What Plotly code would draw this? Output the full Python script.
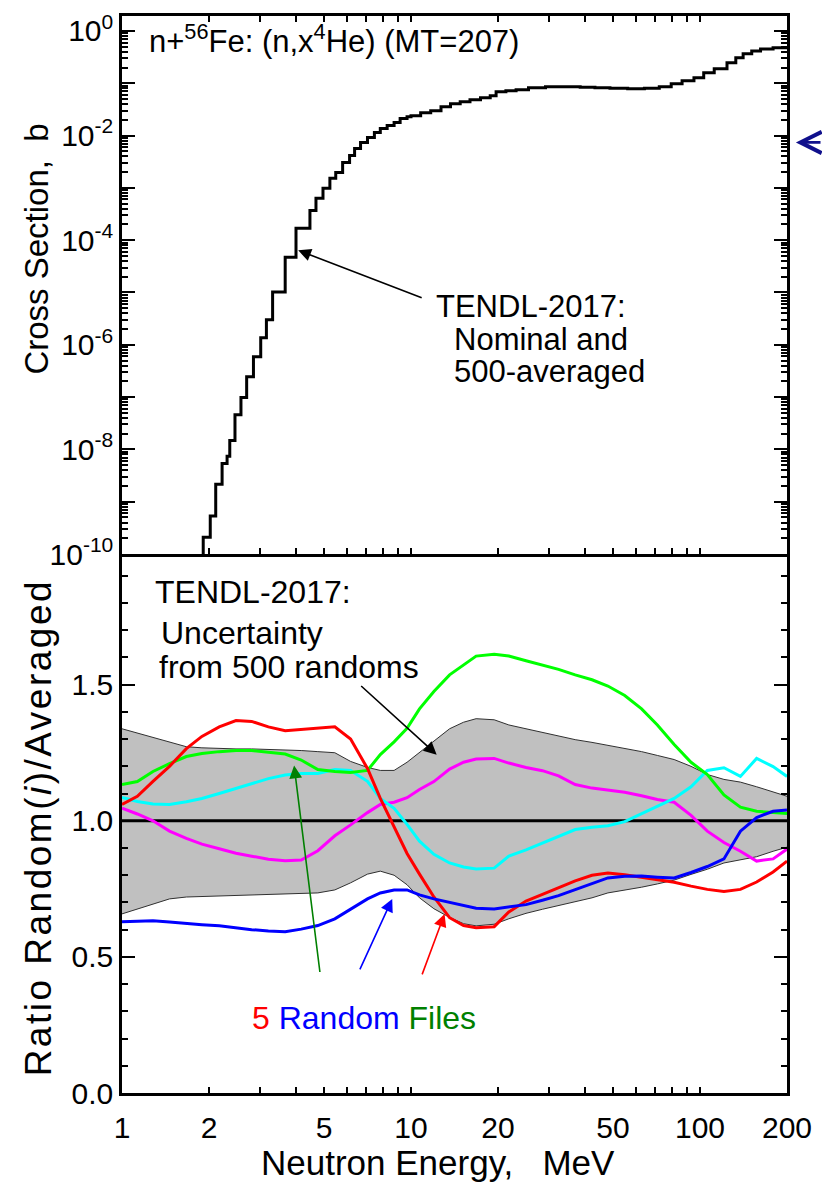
import math
import plotly.graph_objects as go

FONT = "Liberation Sans, Arial, Helvetica, sans-serif"

# ---------------- upper panel: n+56Fe (n,x4He) cross section (b) ----------------
# group-wise values; each value holds from its energy up to the next one
xs_energy = [1.80, 1.91, 2.02, 2.11, 2.22, 2.31, 2.36, 2.46, 2.58, 2.70,
             2.85, 3.02, 3.16, 3.32, 3.67, 4.00, 4.47, 4.69, 4.96, 5.24,
             5.49, 5.80, 6.13, 6.38, 6.69, 7.07, 7.47, 7.83, 8.27, 8.74,
             9.17, 9.69, 10.0, 10.8, 11.7, 12.7, 13.7, 14.8, 16.0, 17.4,
             18.8, 19.7, 21.3, 23.1, 25.5, 29.2, 33.4, 38.5, 43.3, 48.8,
             56.2, 64.2, 72.3, 79.5, 86.7, 95.3, 103, 112, 124, 133,
             141, 151, 162, 179, 200]
xs_barn = [1e-12, 2.1e-10, 5.3e-10, 2.15e-9, 5.4e-9, 7.4e-9, 1.48e-8, 4.6e-8, 9.8e-8, 2.45e-7,
           5.9e-7, 1.36e-6, 3.0e-6, 1.02e-5, 4.7e-5, 1.69e-4, 3.7e-4, 6.3e-4, 9.8e-4, 1.52e-3,
           1.97e-3, 3.06e-3, 4.16e-3, 5.65e-3, 7.36e-3, 9.16e-3, 1.14e-2, 1.36e-2, 1.55e-2, 1.77e-2,
           2.11e-2, 2.30e-2, 2.40e-2, 2.74e-2, 2.99e-2, 3.57e-2, 4.07e-2, 4.44e-2, 4.85e-2, 5.30e-2,
           5.78e-2, 6.89e-2, 7.20e-2, 7.52e-2, 8.20e-2, 8.58e-2, 8.58e-2, 8.39e-2, 8.20e-2, 8.03e-2,
           7.86e-2, 8.03e-2, 8.58e-2, 9.78e-2, 0.112, 0.127, 0.158, 0.189, 0.246, 0.306,
           0.365, 0.416, 0.454, 0.475, 0.475]

# ---------------- lower panel: random file / 500-averaged ----------------
ratio_energy = [1.0, 1.13, 1.28, 1.46, 1.67, 1.89, 2.17, 2.48, 2.81, 3.21,
                3.67, 4.17, 4.76, 5.45, 6.18, 7.07, 7.83, 8.74, 9.69, 10.7,
                12.0, 13.6, 15.2, 16.8, 19.4, 21.8, 25.0, 28.5, 32.4, 37.0,
                42.3, 48.0, 54.9, 62.8, 71.2, 81.4, 93.1, 106, 121, 138,
                157, 179, 200]

# uncertainty band from 500 randoms
band_high = [1.338, 1.322, 1.305, 1.290, 1.272, 1.268, 1.265, 1.264, 1.264, 1.262,
             1.261, 1.258, 1.254, 1.250, 1.218, 1.196, 1.185, 1.185, 1.215, 1.250,
             1.291, 1.338, 1.362, 1.375, 1.371, 1.352, 1.338, 1.325, 1.310, 1.298,
             1.288, 1.278, 1.266, 1.254, 1.240, 1.225, 1.200, 1.170, 1.152, 1.142,
             1.125, 1.105, 1.090]
band_low = [0.658, 0.675, 0.695, 0.713, 0.720, 0.722, 0.724, 0.726, 0.728, 0.729,
            0.731, 0.733, 0.735, 0.746, 0.772, 0.804, 0.815, 0.800, 0.765, 0.717,
            0.677, 0.645, 0.622, 0.614, 0.620, 0.640, 0.660, 0.675, 0.688, 0.703,
            0.717, 0.735, 0.745, 0.756, 0.768, 0.782, 0.803, 0.822, 0.845, 0.856,
            0.868, 0.888, 0.903]

# five individual random files
rand_red = [1.060, 1.090, 1.145, 1.200, 1.265, 1.310, 1.345, 1.368, 1.365, 1.345,
            1.331, 1.335, 1.340, 1.345, 1.300, 1.192, 1.082, 0.975, 0.880, 0.804,
            0.720, 0.644, 0.615, 0.607, 0.611, 0.665, 0.705, 0.730, 0.755, 0.779,
            0.800, 0.808, 0.802, 0.793, 0.785, 0.774, 0.760, 0.748, 0.740, 0.748,
            0.775, 0.812, 0.852]
rand_green = [1.133, 1.144, 1.181, 1.210, 1.236, 1.247, 1.254, 1.258, 1.258, 1.252,
              1.245, 1.223, 1.188, 1.181, 1.177, 1.185, 1.243, 1.290, 1.340, 1.411,
              1.475, 1.536, 1.573, 1.605, 1.612, 1.605, 1.588, 1.572, 1.556, 1.536,
              1.518, 1.495, 1.460, 1.411, 1.352, 1.280, 1.215, 1.170, 1.095, 1.050,
              1.035, 1.030, 1.027]
rand_blue = [0.629, 0.632, 0.633, 0.628, 0.622, 0.618, 0.614, 0.606, 0.600, 0.595,
             0.592, 0.602, 0.615, 0.640, 0.676, 0.713, 0.735, 0.746, 0.746, 0.728,
             0.713, 0.700, 0.688, 0.679, 0.676, 0.683, 0.692, 0.708, 0.725, 0.747,
             0.768, 0.790, 0.796, 0.797, 0.793, 0.790, 0.810, 0.832, 0.860, 0.962,
             1.012, 1.035, 1.040]
rand_cyan = [1.086, 1.071, 1.062, 1.060, 1.070, 1.082, 1.100, 1.119, 1.138, 1.155,
             1.168, 1.174, 1.174, 1.188, 1.185, 1.145, 1.082, 1.046, 0.987, 0.925,
             0.877, 0.845, 0.830, 0.823, 0.826, 0.870, 0.893, 0.918, 0.945, 0.968,
             0.976, 0.982, 0.997, 1.025, 1.052, 1.082, 1.125, 1.185, 1.195, 1.163,
             1.229, 1.199, 1.163]
rand_magenta = [1.046, 1.025, 1.000, 0.962, 0.935, 0.914, 0.897, 0.881, 0.870, 0.859,
                0.853, 0.856, 0.890, 0.945, 0.985, 1.030, 1.060, 1.068, 1.085, 1.115,
                1.144, 1.190, 1.215, 1.227, 1.229, 1.212, 1.196, 1.184, 1.165, 1.133,
                1.120, 1.113, 1.105, 1.092, 1.078, 1.068, 1.020, 0.962, 0.920, 0.888,
                0.852, 0.860, 0.896]

unity_energy = [1.0, 200.0]
unity_ratio = [1.0, 1.0]

# tick labels
x_ticks = [1, 2, 3, 4, 5, 6, 7, 8, 9, 10, 20, 30, 40, 50, 60, 70, 80, 90, 100, 200]
x_labels = ["1", "2", "", "", "5", "", "", "", "", "10",
            "20", "", "", "50", "", "", "", "", "100", "200"]
xs_decades = [10.0 ** k for k in range(-10, 1)]
xs_labels = ["10<sup>-10</sup>", "", "10<sup>-8</sup>", "", "10<sup>-6</sup>", "",
             "10<sup>-4</sup>", "", "10<sup>-2</sup>", "", "10<sup>0</sup>"]
ratio_ticks = [0.0, 0.5, 1.0, 1.5]
ratio_labels = ["0.0", "0.5", "1.0", "1.5"]

# ---------------- figure geometry ----------------
W, H = 822, 1185
ML, MR, MT, MB = 122, 28, 10, 92
PW, PH = W - ML - MR, H - MT - MB
SPLIT = 542 / PH
XMAX = math.log10(200)


def px(x):
    return (x - ML) / PW


def py(y):
    return (H - MB - y) / PH


fig = go.Figure()

# cross section
fig.add_trace(go.Scatter(x=xs_energy, y=xs_barn, xaxis="x2", yaxis="y2", mode="lines",
                         line=dict(color="black", width=3, shape="hv"), hoverinfo="skip"))

# band
fig.add_trace(go.Scatter(x=ratio_energy, y=band_low, mode="lines",
                         line=dict(color="#303030", width=1), hoverinfo="skip"))
fig.add_trace(go.Scatter(x=ratio_energy, y=band_high, mode="lines", fill="tonexty",
                         fillcolor="#c0c0c0",
                         line=dict(color="#303030", width=1), hoverinfo="skip"))
fig.add_trace(go.Scatter(x=unity_energy, y=unity_ratio, mode="lines",
                         line=dict(color="black", width=3), hoverinfo="skip"))

for vals, col in [(rand_magenta, "#ff00ff"), (rand_cyan, "#00ffff"), (rand_green, "#00ff00"),
                  (rand_red, "#ff0000"), (rand_blue, "#0000ff")]:
    fig.add_trace(go.Scatter(x=ratio_energy, y=vals, mode="lines",
                             line=dict(color=col, width=3), hoverinfo="skip"))

axis_common = dict(showgrid=False, zeroline=False, showline=True, linecolor="black",
                   linewidth=2.5, ticks="inside", tickcolor="black",
                   tickfont=dict(family=FONT, size=30, color="black"))

ratio_minor = [round(0.1 * k, 1) for k in range(1, 20) if k % 5]
xs_minor = [m * 10.0 ** k for k in range(-10, 1) for m in range(2, 10)]

fig.update_layout(
    width=W, height=H,
    margin=dict(l=ML, r=MR, t=MT, b=MB),
    paper_bgcolor="white", plot_bgcolor="white",
    showlegend=False,
    font=dict(family=FONT, color="black"),
    xaxis=dict(axis_common, type="log", range=[0, XMAX], domain=[0, 1], anchor="y",
               tickmode="array", tickvals=x_ticks, ticktext=x_labels, ticklen=6, tickwidth=2,
               mirror=False, ticklabelstandoff=6),
    xaxis2=dict(axis_common, type="log", range=[0, XMAX], domain=[0, 1], anchor="y2",
                tickmode="array", tickvals=x_ticks, ticktext=x_labels, ticklen=6, tickwidth=2,
                showticklabels=False, mirror="ticks"),
    xaxis3=dict(axis_common, type="log", range=[0, XMAX], overlaying="x", anchor="y",
                tickmode="array", tickvals=[1, 10, 100], ticklen=13, tickwidth=2,
                showticklabels=False, mirror=False),
    xaxis4=dict(axis_common, type="log", range=[0, XMAX], overlaying="x2", anchor="y2",
                tickmode="array", tickvals=[1, 10, 100], ticklen=13, tickwidth=2,
                showticklabels=False, mirror="ticks"),
    yaxis=dict(axis_common, range=[0, 1.98], domain=[0, SPLIT], anchor="x",
               tickmode="array", tickvals=ratio_ticks, ticktext=ratio_labels,
               ticklen=13, tickwidth=2, mirror="ticks",
               minor=dict(tickmode="array", tickvals=ratio_minor, ticks="inside",
                          ticklen=6, tickwidth=2, tickcolor="black", showgrid=False)),
    yaxis2=dict(axis_common, type="log", range=[-10, 0.286], domain=[SPLIT, 1], anchor="x2",
                tickmode="array", tickvals=xs_decades, ticktext=xs_labels,
                ticklen=13, tickwidth=2, mirror="ticks",
                minor=dict(tickmode="array", tickvals=xs_minor, ticks="inside",
                           ticklen=6, tickwidth=1.5, tickcolor="black", showgrid=False)),
)

NB = "\u00a0"
ann = []


def text_at(x, y, s, size=32, color="black", xanchor="left", angle=0, family=FONT):
    ann.append(dict(x=px(x), y=py(y), xref="paper", yref="paper", text=s, showarrow=False,
                    xanchor=xanchor, yanchor="middle", textangle=angle,
                    font=dict(family=family, size=size, color=color)))


def arrow(xr, yr, e, v, dx, dy, color, logy=False):
    ann.append(dict(x=math.log10(e), y=math.log10(v) if logy else v, xref=xr, yref=yr,
                    text="", showarrow=True, ax=dx, ay=dy, arrowhead=2, arrowsize=1.6,
                    arrowwidth=1.6, arrowcolor=color))


# upper panel texts
text_at(147, 33, "n+<sup>56</sup>Fe: (n,x<sup>4</sup>He) (MT=207)", size=31)
text_at(437, 302, "TENDL-2017:", size=31)
text_at(455, 335, "Nominal and", size=31)
text_at(455, 367, "500-averaged", size=31)
arrow("x2", "y2", 4.07, 6.4e-5, 125, 48, "black", logy=True)

# marker on the right edge pointing at the 0.007 b level
ann.append(dict(x=px(803), y=math.log10(0.0074), xref="paper", yref="y2", text="",
                showarrow=True, ax=40, ay=0, arrowhead=5, arrowsize=1.6, arrowwidth=2.6,
                arrowcolor="#10108c"))

# lower panel texts
text_at(153, 589, "TENDL-2017:")
text_at(159, 630, "Uncertainty")
text_at(157, 665, "from 500 randoms")
arrow("x", "y", 12.27, 1.243, -77, -70, "black")
arrow("x", "y", 3.94, 1.203, 26, 208, "#008000")
arrow("x", "y", 8.61, 0.713, -33, 72, "#0000ff")
arrow("x", "y", 13.07, 0.658, -23, 62, "#ff0000")
text_at(251, 1018, "<span style='color:#ff0000'>5</span> "
                   "<span style='color:#0000ff'>Random</span> "
                   "<span style='color:#008000'>Files</span>")

# axis titles
text_at(36, 244, "Cross Section," + NB + NB + "b", size=33, xanchor="center", angle=-90)
text_at(38, 826, "<span style='letter-spacing:2.5px'>Ratio Random(<i>i</i>)/Averaged</span>",
        size=37, xanchor="center", angle=-90)
text_at(441, 1163, "Neutron Energy," + NB + NB + NB + "MeV", size=35, xanchor="center")

fig.update_layout(annotations=ann)

fig.write_html("out.html", config={"displayModeBar": False})
